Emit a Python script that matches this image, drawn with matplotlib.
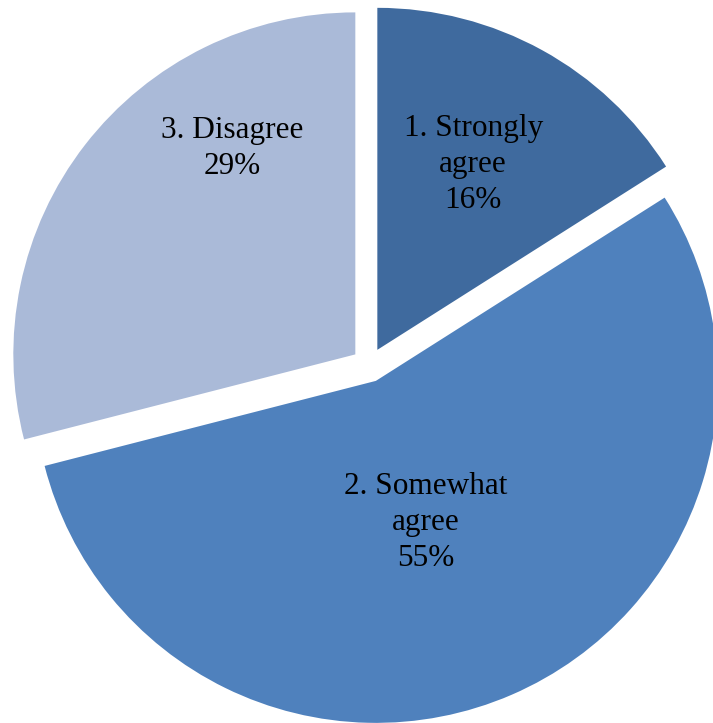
import numpy as np
import matplotlib.pyplot as plt

# Survey responses
categories = ["1. Strongly\nagree", "2. Somewhat\nagree", "3. Disagree"]
shares = [16, 55, 29]
colors = ["#3F6A9E", "#4F81BD", "#AABAD8"]

# label placement: (fraction of radius, angle in degrees) from each wedge centre
label_pos = [(0.611, 62.7), (0.438, -70.5), (0.702, 120.9)]

W, H = 713, 723
R = 342
gap = 17.3

fig = plt.figure(figsize=(W / 100, H / 100), dpi=100)
ax = fig.add_axes([0, 0, 1, 1])

wedges, _ = ax.pie(shares, colors=colors, startangle=90, counterclock=False,
                   radius=R, center=(369, H - 365), explode=[gap] * 3,
                   frame=True, wedgeprops=dict(linewidth=0))
ax.set_xlim(0, W)
ax.set_ylim(0, H)
ax.set_aspect("equal")
ax.axis("off")

for w, cat, val, (f, ang) in zip(wedges, categories, shares, label_pos):
    cx, cy = w.center
    a = np.deg2rad(ang)
    ax.text(cx + f * R * np.cos(a), cy + f * R * np.sin(a), f"{cat}\n{val}%",
            ha="center", va="center", fontsize=22.5, family="Liberation Serif",
            linespacing=1.32, color="black")

fig.savefig("out.png", dpi=100)
